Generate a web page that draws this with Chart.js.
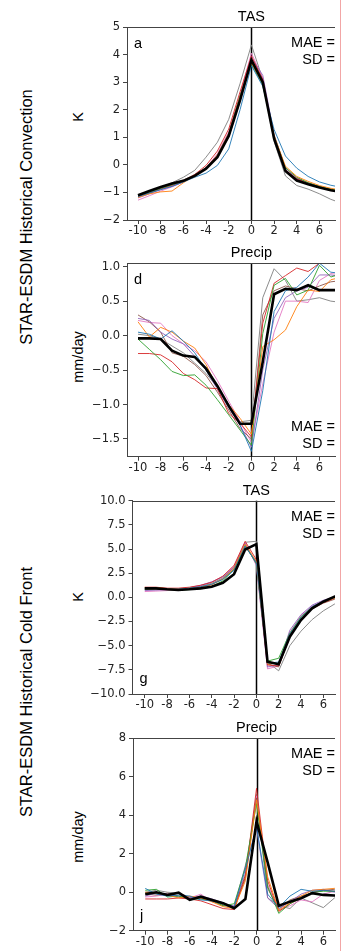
<!DOCTYPE html>
<html><head><meta charset="utf-8">
<script src="https://cdn.jsdelivr.net/npm/chart.js@4/dist/chart.umd.min.js"></script>
<style>
body{margin:0;background:#fff;}
#wrap{position:relative;width:343px;height:951px;overflow:hidden;background:#fff;}
canvas{position:absolute;left:0;}
.lab{position:absolute;white-space:nowrap;font-family:"Liberation Sans",Arial,sans-serif;color:#000;transform:translate(-50%,-50%) rotate(-90deg);}
#redline{position:absolute;left:340px;top:0;width:1px;height:951px;background:#f2a6a6;}
</style></head>
<body><div id="wrap">
<div class="lab" style="left:26px;top:217px;font-size:16.5px;">STAR-ESDM Historical Convection</div>
<div class="lab" style="left:26px;top:692px;font-size:16.5px;">STAR-ESDM Historical Cold Front</div>
<div class="lab" style="left:78px;top:117px;font-size:14.5px;">K</div>
<div class="lab" style="left:78px;top:357px;font-size:14.5px;">mm/day</div>
<div class="lab" style="left:78px;top:597px;font-size:14.5px;">K</div>
<div class="lab" style="left:78px;top:837px;font-size:14.5px;">mm/day</div>
<div id="redline"></div>
<canvas id="c1" width="343" height="240" style="top:0px"></canvas>
<canvas id="c2" width="343" height="240" style="top:240px"></canvas>
<canvas id="c3" width="343" height="240" style="top:480px"></canvas>
<canvas id="c4" width="343" height="231" style="top:720px"></canvas>
</div>
<script>
// ---- data ----
const lagDays = [-10,-9,-8,-7,-6,-5,-4,-3,-2,-1,0,1,2,3,4,5,6,7,8];
const xTickValues = [-10,-8,-6,-4,-2,0,2,4,6];

// Panel a: TAS, Convection (K)
const tasConvMean   = [-1.10,-0.95,-0.80,-0.68,-0.58,-0.40,-0.14,0.28,1.05,2.35,3.80,3.00,0.95,-0.22,-0.57,-0.70,-0.82,-0.92,-1.00];
const tasConvBlue   = [-1.15,-1.02,-0.90,-0.78,-0.62,-0.45,-0.30,-0.02,0.58,2.00,3.60,2.85,1.28,0.32,-0.12,-0.42,-0.62,-0.74,-0.82];
const tasConvOrange = [-1.18,-1.05,-0.98,-0.95,-0.65,-0.40,-0.15,0.35,1.10,2.45,3.70,2.95,1.05,-0.05,-0.42,-0.60,-0.75,-0.85,-0.92];
const tasConvGreen  = [-1.12,-1.00,-0.85,-0.72,-0.60,-0.38,-0.12,0.32,1.10,2.50,3.65,2.90,1.05,-0.10,-0.45,-0.65,-0.78,-0.88,-0.95];
const tasConvRed    = [-1.15,-1.02,-0.88,-0.75,-0.60,-0.35,-0.02,0.50,1.30,2.65,3.95,3.10,1.00,-0.18,-0.50,-0.66,-0.80,-0.90,-0.97];
const tasConvPurple = [-1.20,-1.05,-0.90,-0.78,-0.62,-0.40,-0.12,0.30,1.00,2.30,3.90,3.25,1.10,-0.12,-0.48,-0.65,-0.78,-0.90,-0.98];
const tasConvBrown  = [-1.13,-0.98,-0.85,-0.72,-0.55,-0.35,-0.10,0.35,1.15,2.50,3.85,3.05,0.95,-0.20,-0.52,-0.68,-0.80,-0.90,-0.98];
const tasConvPink   = [-1.28,-1.12,-0.95,-0.80,-0.62,-0.38,-0.10,0.40,1.20,2.55,4.05,3.15,1.00,-0.20,-0.52,-0.70,-0.82,-0.93,-1.00];
const tasConvGray   = [-1.10,-0.95,-0.82,-0.65,-0.45,-0.20,0.28,0.82,1.65,2.95,4.35,3.10,0.85,-0.40,-0.75,-0.88,-1.05,-1.25,-1.40];

// Panel d: Precip, Convection (mm/day)
const prConvMean   = [-0.04,-0.04,-0.05,-0.22,-0.29,-0.31,-0.48,-0.73,-1.02,-1.28,-1.28,-0.38,0.60,0.68,0.66,0.73,0.66,0.66,0.66];
const prConvBlue   = [0.05,0.02,-0.05,0.07,-0.08,-0.25,-0.50,-0.75,-1.00,-1.30,-1.68,-0.80,0.35,0.65,0.70,0.85,1.05,0.92,0.90];
const prConvOrange = [0.20,-0.02,0.12,0.05,-0.08,-0.18,-0.42,-0.75,-1.00,-1.20,-1.43,-0.16,-0.06,0.08,0.42,0.66,0.64,0.81,0.85];
const prConvGreen  = [-0.05,-0.20,-0.35,-0.52,-0.58,-0.57,-0.72,-0.93,-1.15,-1.37,-1.59,0.03,0.73,0.83,0.59,0.66,1.02,0.85,0.90];
const prConvRed    = [-0.26,-0.26,-0.28,-0.38,-0.55,-0.64,-0.76,-0.77,-1.13,-1.27,-1.47,0.18,0.76,0.87,0.98,0.93,1.05,1.07,1.05];
const prConvPurple = [0.25,0.22,0.05,-0.05,-0.12,-0.30,-0.50,-0.78,-1.05,-1.30,-1.62,-0.50,0.25,0.55,0.65,0.70,0.88,0.88,0.85];
const prConvBrown  = [0.30,0.20,0.05,-0.25,-0.30,-0.42,-0.58,-0.82,-1.08,-1.35,-1.50,0.30,0.65,0.72,0.68,0.65,0.72,0.78,0.80];
const prConvPink   = [0.22,0.19,0.18,0.00,-0.12,-0.22,-0.38,-0.65,-0.95,-1.25,-1.55,-0.70,0.05,0.50,0.50,0.48,0.80,0.90,0.88];
const prConvGray   = [0.02,0.00,-0.05,-0.15,-0.25,-0.40,-0.55,-0.75,-1.00,-1.25,-1.23,0.55,0.97,0.80,0.50,0.52,0.55,0.50,0.48];

// Panel g: TAS, Cold Front (K)
const tasFrontMean   = [0.93,0.93,0.83,0.76,0.83,0.93,1.10,1.50,2.40,4.95,5.50,-6.66,-6.93,-4.07,-2.35,-1.14,-0.45,0.07,0.45];
const tasFrontBlue   = [0.90,0.95,0.85,0.85,0.95,1.10,1.35,1.85,2.80,5.30,3.60,-6.80,-6.70,-3.80,-2.10,-0.95,-0.40,0.00,0.35];
const tasFrontOrange = [1.00,1.00,0.90,0.85,0.95,1.05,1.30,1.90,3.00,5.50,3.70,-6.90,-6.80,-3.90,-2.20,-1.05,-0.50,-0.05,0.35];
const tasFrontGreen  = [0.85,0.90,0.80,0.75,0.80,0.90,1.15,1.70,2.90,5.40,3.50,-6.60,-6.30,-3.70,-2.00,-1.00,-0.45,-0.05,0.35];
const tasFrontRed    = [1.05,1.05,0.95,0.95,1.05,1.25,1.55,2.20,3.30,5.80,3.90,-7.00,-7.10,-4.10,-2.30,-1.15,-0.55,-0.10,0.30];
const tasFrontPurple = [0.70,0.75,0.80,0.85,1.00,1.25,1.60,2.10,3.10,5.60,3.40,-7.20,-7.00,-3.40,-1.80,-0.80,-0.30,0.05,0.40];
const tasFrontBrown  = [0.80,0.85,0.80,0.80,0.90,1.05,1.35,1.90,2.90,5.20,3.70,-6.90,-7.20,-4.00,-2.30,-1.20,-0.60,-0.20,0.20];
const tasFrontPink   = [0.60,0.65,0.70,0.80,0.95,1.20,1.60,2.15,3.20,5.70,3.30,-7.40,-7.10,-3.60,-1.90,-0.90,-0.40,-0.05,0.30];
const tasFrontGray   = [0.95,0.95,0.90,0.90,1.00,1.15,1.45,2.00,3.10,5.70,5.80,-6.70,-7.60,-5.00,-3.50,-2.30,-1.40,-0.70,-0.20];

// Panel j: Precip, Cold Front (mm/day)
const prFrontMean   = [-0.10,0.00,-0.14,-0.02,-0.40,-0.23,-0.40,-0.57,-0.83,-0.35,3.69,1.55,-0.70,-0.49,-0.31,-0.05,-0.14,-0.17,-0.15];
const prFrontBlue   = [0.20,-0.10,-0.20,-0.15,-0.20,-0.40,-0.45,-0.60,-0.75,1.20,3.40,-0.10,-0.80,-0.20,0.15,0.05,0.10,0.05,0.10];
const prFrontOrange = [0.00,-0.05,-0.15,-0.30,-0.20,-0.30,-0.50,-0.75,-0.85,0.60,4.80,0.80,-0.95,-0.55,-0.20,0.10,0.15,0.20,0.15];
const prFrontGreen  = [0.10,0.15,-0.25,-0.20,-0.35,-0.35,-0.45,-0.70,-0.60,1.30,4.60,0.30,-1.10,-0.60,-0.30,0.00,0.05,0.05,0.10];
const prFrontRed    = [-0.35,-0.35,-0.35,-0.30,-0.35,-0.45,-0.65,-0.85,-0.90,0.80,5.40,0.60,-1.00,-0.60,-0.30,0.00,0.10,0.05,0.05];
const prFrontPurple = [-0.20,-0.05,-0.10,-0.25,-0.30,-0.20,-0.35,-0.55,-0.75,1.40,3.30,-0.30,-0.85,-0.50,-0.10,0.10,0.15,0.00,0.05];
const prFrontBrown  = [-0.10,-0.15,-0.05,-0.20,-0.30,-0.30,-0.40,-0.65,-0.80,0.90,4.90,0.20,-0.90,-0.40,-0.20,-0.05,0.10,0.15,0.10];
const prFrontPink   = [-0.25,-0.20,-0.10,-0.05,-0.30,-0.10,-0.50,-0.60,-0.70,1.00,5.00,0.40,-0.95,-0.70,-0.40,-0.50,-0.10,0.05,0.05];
const prFrontGray   = [0.00,0.10,0.00,-0.05,-0.25,-0.30,-0.45,-0.70,-0.80,0.70,5.10,-0.30,-0.70,-0.85,-0.30,-0.55,-0.80,-0.30,-0.10];

const yTicksTasConv  = [-2,-1,0,1,2,3,4,5];
const yTicksPrConv   = [-1.5,-1.0,-0.5,0.0,0.5,1.0];
const yTicksTasFront = [-10,-7.5,-5,-2.5,0,2.5,5,7.5,10];
const yTicksPrFront  = [-2,0,2,4,6,8];

const memberColors = ['#1f77b4','#ff7f0e','#2ca02c','#d62728','#9467bd','#8c564b','#e377c2','#7f7f7f'];

// ---- drawing ----
const TXT = '"Liberation Sans", Arial, sans-serif';
const TICKF = '"DejaVu Sans", sans-serif';

const overlay = {
  id: 'overlay',
  beforeDatasetsDraw(chart, args, o) {
    const {ctx, chartArea: a, scales: {x}} = chart;
    ctx.save();
    const x0 = Math.round(x.getPixelForValue(0)) + 0.5;
    ctx.strokeStyle = '#000'; ctx.lineWidth = 1.5;
    ctx.beginPath(); ctx.moveTo(x0, a.top); ctx.lineTo(x0, a.bottom); ctx.stroke();
    ctx.restore();
  },
  afterDatasetsDraw(chart, args, o) {
    const {ctx, chartArea: a, scales: {x}} = chart;
    ctx.save();
    ctx.strokeStyle = '#444'; ctx.lineWidth = 1;
    ctx.beginPath(); ctx.moveTo(a.left, Math.round(a.top) + 0.5); ctx.lineTo(a.right, Math.round(a.top) + 0.5); ctx.stroke();
    ctx.fillStyle = '#000';
    ctx.font = '14.5px ' + TXT; ctx.textAlign = 'center'; ctx.textBaseline = 'alphabetic';
    ctx.fillText(o.title, x.getPixelForValue(0), a.top - 6);
    ctx.textAlign = 'left';
    const ly = o.letterTop ? a.top + 20.5 : a.bottom - 11;
    ctx.fillText(o.letter, a.left + 7, ly);
    ctx.textAlign = 'right';
    const my = o.maeTop ? a.top + 20 : a.bottom - 25.7;
    ctx.fillText('MAE =', a.right, my);
    ctx.fillText('SD =', a.right, my + 17);
    ctx.restore();
  }
};

function fmtY(v, dec) {
  const s = Math.abs(v).toFixed(dec);
  return (v < 0 ? '\u2212' : '') + s;
}

function makeChart(id, cfg) {
  const pts = arr => lagDays.map((d, i) => ({x: d, y: arr[i]}));
  const datasets = [{
    data: pts(cfg.mean), borderColor: '#000', borderWidth: 2.6, pointRadius: 0, order: 0, clip: 0, tension: 0
  }].concat(cfg.members.map((m, i) => ({
    data: pts(m), borderColor: memberColors[i], borderWidth: 0.9, pointRadius: 0, order: 1, clip: 0, tension: 0
  })));
  return new Chart(document.getElementById(id), {
    type: 'line',
    data: {datasets},
    plugins: [overlay],
    options: {
      responsive: false, animation: false, devicePixelRatio: 1,
      layout: {padding: {top: cfg.padTop, right: 8, left: 0, bottom: 0}},
      plugins: {legend: {display: false}, tooltip: {enabled: false},
        overlay: {title: cfg.title, letter: cfg.letter, letterTop: cfg.letterTop, maeTop: cfg.maeTop}},
      scales: {
        x: {
          type: 'linear', min: cfg.xmin, max: cfg.xmax,
          afterBuildTicks: s => { s.ticks = xTickValues.map(v => ({value: v})); },
          afterFit: s => { s.height = cfg.xAxisH; },
          grid: {drawOnChartArea: false, drawTicks: true, tickLength: 4, color: '#444'},
          border: {display: true, color: '#444', width: 1},
          ticks: {font: {family: TICKF, size: 11.5}, color: '#222', padding: 0, maxRotation: 0,
                  callback: v => String(v)}
        },
        y: {
          type: 'linear', min: cfg.ymin, max: cfg.ymax,
          afterBuildTicks: s => { s.ticks = cfg.yTicks.map(v => ({value: v})); },
          afterFit: s => { s.width = cfg.left; },
          grid: {drawOnChartArea: false, drawTicks: true, tickLength: 4, color: '#444'},
          border: {display: true, color: '#444', width: 1},
          ticks: {font: {family: TICKF, size: 11.5}, color: '#222', padding: 3,
                  callback: v => fmtY(v, cfg.yDec)}
        }
      }
    }
  });
}

makeChart('c1', {mean: tasConvMean,
  members: [tasConvBlue,tasConvOrange,tasConvGreen,tasConvRed,tasConvPurple,tasConvBrown,tasConvPink,tasConvGray],
  title: 'TAS', letter: 'a', letterTop: true, maeTop: true,
  padTop: 27, xAxisH: 20, left: 127, xmin: -10.97, xmax: 7.37, ymin: -2, ymax: 5, yTicks: yTicksTasConv, yDec: 0});
makeChart('c2', {mean: prConvMean,
  members: [prConvBlue,prConvOrange,prConvGreen,prConvRed,prConvPurple,prConvBrown,prConvPink,prConvGray],
  title: 'Precip', letter: 'd', letterTop: true, maeTop: false,
  padTop: 23.3, xAxisH: 23.3, left: 127, xmin: -10.97, xmax: 7.37, ymin: -1.757, ymax: 1.049, yTicks: yTicksPrConv, yDec: 1});
makeChart('c3', {mean: tasFrontMean,
  members: [tasFrontBlue,tasFrontOrange,tasFrontGreen,tasFrontRed,tasFrontPurple,tasFrontBrown,tasFrontPink,tasFrontGray],
  title: 'TAS', letter: 'g', letterTop: false, maeTop: true,
  padTop: 20.7, xAxisH: 26, left: 132.5, xmin: -11.1, xmax: 7.05, ymin: -10, ymax: 10, yTicks: yTicksTasFront, yDec: 1});
makeChart('c4', {mean: prFrontMean,
  members: [prFrontBlue,prFrontOrange,prFrontGreen,prFrontRed,prFrontPurple,prFrontBrown,prFrontPink,prFrontGray],
  title: 'Precip', letter: 'j', letterTop: false, maeTop: true,
  padTop: 18.3, xAxisH: 20.3, left: 133, xmin: -11.1, xmax: 7.05, ymin: -2, ymax: 8, yTicks: yTicksPrFront, yDec: 0});
</script>
</body></html>
